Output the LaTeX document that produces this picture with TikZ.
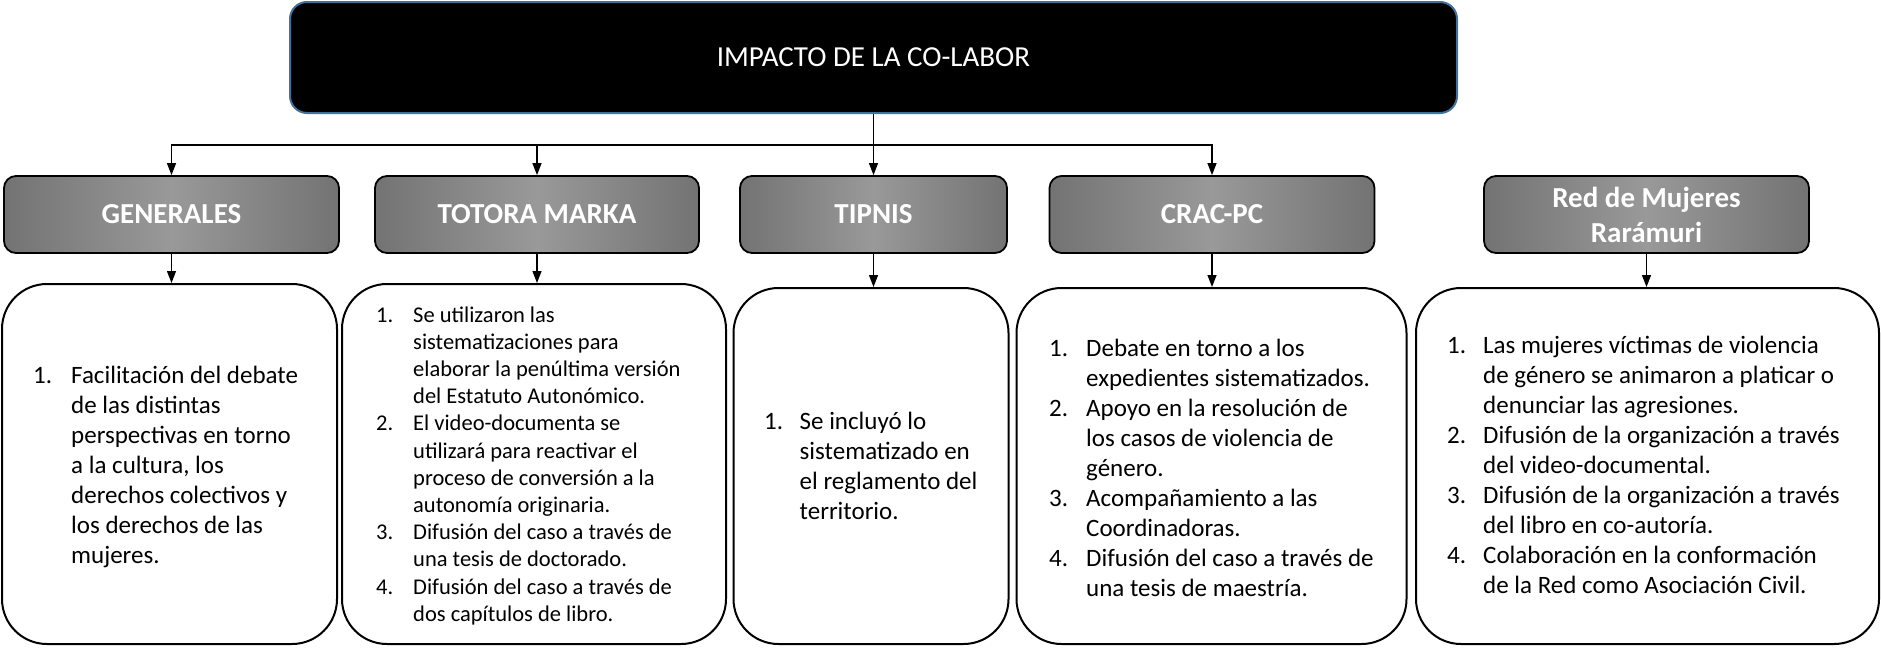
\documentclass[tikz,border=0pt]{standalone}
\usepackage{fontspec}
\setmainfont{Carlito}
\usetikzlibrary{arrows.meta}
\definecolor{topborder}{HTML}{41719C}
\definecolor{hdark}{HTML}{737373}
\definecolor{hlight}{HTML}{999999}
\tikzset{
  topbox/.style={draw=topborder, line width=2pt, fill=black, rounded corners=17pt,
    minimum width=1167pt, minimum height=111pt, text=white, inner sep=0pt,
    font=\fontsize{29}{35}\selectfont},
  hdr/.style={draw=black, line width=1.8pt, rounded corners=12pt,
    left color=hdark, right color=hdark, middle color=hlight,
    minimum height=77pt, text=white, inner sep=0pt, align=center,
    font=\bfseries\fontsize{29}{35}\selectfont},
  cbox/.style={draw=black, line width=2pt, rounded corners=45pt, fill=white, inner sep=0pt},
  plainline/.style={line width=1.3pt},
  conn/.style={line width=1.3pt, -{Triangle[length=12pt,width=9pt]}},
  ltext/.style={anchor=base west, inner sep=0pt, align=left},
  bigtxt/.style={font=\fontsize{25}{30}\selectfont},
  midtxt/.style={font=\fontsize{22.5}{27.2}\selectfont}
}
\begin{document}
\begin{tikzpicture}[x=1pt,y=-1pt]
\useasboundingbox (0,0) rectangle (1881,648);

% top node
\node[topbox] (top) at (873.5,57.5) {IMPACTO DE LA CO-LABOR};

% headers
\node[hdr, minimum width=335pt] (hgen) at (171.5,214.5) {GENERALES};
\node[hdr, minimum width=324pt] (htot) at (537,214.5) {TOTORA MARKA};
\node[hdr, minimum width=267pt] (htip) at (873.5,214.5) {TIPNIS};
\node[hdr, minimum width=325pt] (hcrac) at (1212,214.5) {CRAC-PC};
\node[hdr, minimum width=325pt] (hred) at (1646.5,214.5) {Red de Mujeres\\Rarámuri};

% content boxes
\node[cbox, minimum width=335pt, minimum height=360pt] (cgen) at (169.5,464) {};
\node[cbox, minimum width=384pt, minimum height=360pt] (ctot) at (534,464) {};
\node[cbox, minimum width=275pt, minimum height=356pt] (ctip) at (871,466) {};
\node[cbox, minimum width=390pt, minimum height=356pt] (ccrac) at (1211.5,466) {};
\node[cbox, minimum width=463pt, minimum height=356pt] (cred) at (1647.5,466) {};

% connectors
\coordinate (hub) at (873.5,145);
\draw[plainline] (top.south) -- (hub);
\draw[conn] (hub) -| (hgen.north);
\draw[conn] (hub) -| (htot.north);
\draw[conn] (hub) -- (htip.north);
\draw[conn] (hub) -| (hcrac.north);

\draw[conn] (hgen.south) -- (hgen.south |- cgen.north);
\draw[conn] (htot.south) -- (htot.south |- ctot.north);
\draw[conn] (htip.south) -- (htip.south |- ctip.north);
\draw[conn] (hcrac.south) -- (hcrac.south |- ccrac.north);
\draw[conn] (hred.south) -- (hred.south |- cred.north);

% texts
\node[ltext, bigtxt] (tgen) at (33,383) {\begin{tabular}[t]{@{}p{38pt}@{}l@{}}
1. & Facilitación del debate\\
 & de las distintas\\
 & perspectivas en torno\\
 & a la cultura, los\\
 & derechos colectivos y\\
 & los derechos de las\\
 & mujeres.
\end{tabular}};

\node[ltext, midtxt] (ttot) at (376,322) {\begin{tabular}[t]{@{}p{37pt}@{}l@{}}
1. & Se utilizaron las\\
 & sistematizaciones para\\
 & elaborar la penúltima versión\\
 & del Estatuto Autonómico.\\
2. & El video-documenta se\\
 & utilizará para reactivar el\\
 & proceso de conversión a la\\
 & autonomía originaria.\\
3. & Difusión del caso a través de\\
 & una tesis de doctorado.\\
4. & Difusión del caso a través de\\
 & dos capítulos de libro.
\end{tabular}};

\node[ltext, bigtxt] (ttip) at (764,429) {\begin{tabular}[t]{@{}p{35.5pt}@{}l@{}}
1. & Se incluyó lo\\
 & sistematizado en\\
 & el reglamento del\\
 & territorio.
\end{tabular}};

\node[ltext, bigtxt] (tcrac) at (1049,356) {\begin{tabular}[t]{@{}p{37pt}@{}l@{}}
1. & Debate en torno a los\\
 & expedientes sistematizados.\\
2. & Apoyo en la resolución de\\
 & los casos de violencia de\\
 & género.\\
3. & Acompañamiento a las\\
 & Coordinadoras.\\
4. & Difusión del caso a través de\\
 & una tesis de maestría.
\end{tabular}};

\node[ltext, bigtxt] (tred) at (1447,353) {\begin{tabular}[t]{@{}p{36pt}@{}l@{}}
1. & Las mujeres víctimas de violencia\\
 & de género se animaron a platicar o\\
 & denunciar las agresiones.\\
2. & Difusión de la organización a través\\
 & del video-documental.\\
3. & Difusión de la organización a través\\
 & del libro en co-autoría.\\
4. & Colaboración en la conformación\\
 & de la Red como Asociación Civil.
\end{tabular}};
\end{tikzpicture}
\end{document}
